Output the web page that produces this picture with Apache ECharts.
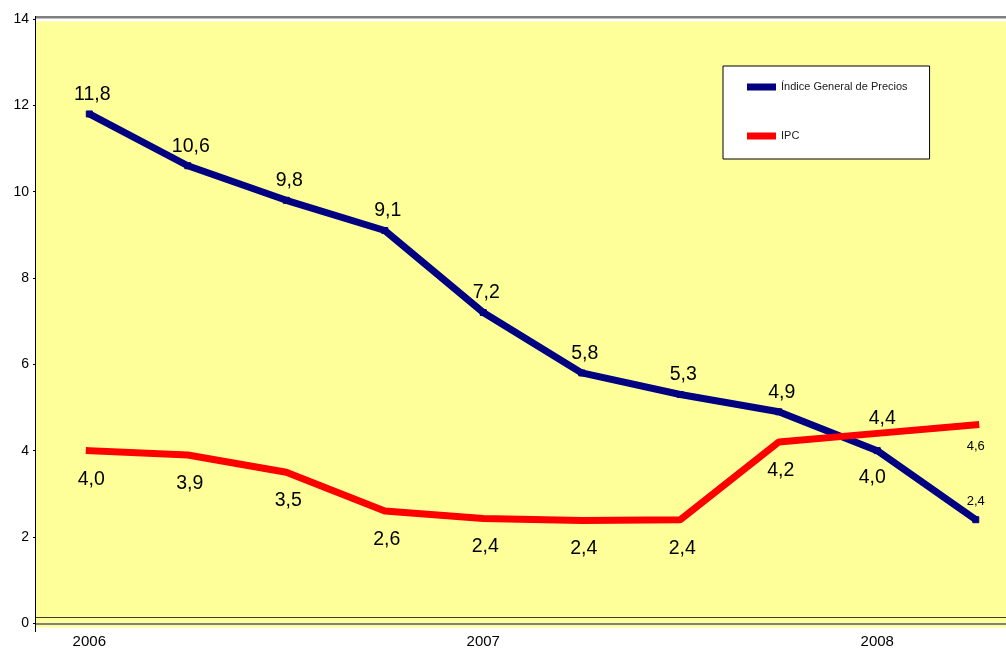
<!DOCTYPE html>
<html>
<head>
<meta charset="utf-8">
<script src="https://cdn.jsdelivr.net/npm/echarts@6/dist/echarts.min.js"></script>
<style>
html,body{margin:0;padding:0;background:#fff;}
#chart{width:1006px;height:652px;}
</style>
</head>
<body>
<div id="chart"></div>
<script>
// Period labels (one per data point; year shown at first point of each year)
const categories = ['2006', '', '', '', '2007', '', '', '', '2008', ''];
const yTicks = [0, 2, 4, 6, 8, 10, 12, 14];
const seriesNames = ['Índice General de Precios', 'IPC'];
const igpValues = [11.8, 10.6, 9.8, 9.1, 7.2, 5.8, 5.3, 4.9, 4.0, 2.4];
const ipcValues = [4.0, 3.9, 3.5, 2.6, 2.43, 2.38, 2.4, 4.2, 4.4, 4.6];

const FONT = 'Arial, "Liberation Sans", sans-serif';
const fmt = v => v.toFixed(1).replace('.', ',');

function buildData(values, overrides) {
  return values.map((v, i) => {
    const item = { value: [i, v] };
    if (overrides[i]) item.label = overrides[i];
    return item;
  });
}

const igpData = buildData(igpValues, {
  8: { position: 'bottom', distance: 13, offset: [-5, 0] },
  9: { fontSize: 13, distance: 8, offset: [0, 0] }
});
const ipcData = buildData(ipcValues, {
  8: { position: 'top', distance: 4, offset: [5, 0] },
  9: { fontSize: 13, distance: 15, offset: [0, 0] }
});

const labelIdx = categories.map((c, i) => c ? i : -1).filter(i => i >= 0);

const chart = echarts.init(document.getElementById('chart'));
chart.setOption({
  animation: false,
  backgroundColor: '#ffffff',
  textStyle: { fontFamily: FONT },
  grid: { left: 36, right: 0, top: 19, bottom: 28.7, containLabel: false },
  graphic: [
    { type: 'rect', z: -10, silent: true,
      shape: { x: 36, y: 21.5, width: 970, height: 606 },
      style: { fill: '#FFFF99' } },
    { type: 'rect', z: 5, silent: true,
      shape: { x: 36, y: 16, width: 970, height: 2.5 },
      style: { fill: '#808080' } },
    { type: 'line', z: 5, silent: true,
      shape: { x1: 36, y1: 617.5, x2: 1006, y2: 617.5 },
      style: { stroke: '#3d3d2a', lineWidth: 1 } },
    { type: 'line', z: 5, silent: true,
      shape: { x1: 35.5, y1: 16, x2: 35.5, y2: 632 },
      style: { stroke: '#000000', lineWidth: 1 } }
  ],
  legend: {
    orient: 'vertical',
    left: 723,
    top: 66,
    padding: [15, 22, 17, 24],
    itemGap: 37,
    itemWidth: 29,
    itemHeight: 7,
    backgroundColor: '#ffffff',
    borderColor: '#000000',
    borderWidth: 1,
    textStyle: { fontSize: 11, color: '#1a1a1a', fontFamily: FONT, lineHeight: 12 },
    data: [
      { name: seriesNames[0], icon: 'rect', itemStyle: { color: '#000080' } },
      { name: seriesNames[1], icon: 'rect', itemStyle: { color: '#FF0000' } }
    ]
  },
  xAxis: {
    type: 'value',
    min: -0.541,
    max: 9.307,
    axisLine: { show: true, onZero: false, lineStyle: { color: '#808080', width: 2 } },
    axisTick: { show: false },
    splitLine: { show: false },
    axisLabel: {
      customValues: labelIdx,
      formatter: v => categories[Math.round(v)],
      fontSize: 15,
      color: '#000000',
      margin: 11,
      fontFamily: FONT
    }
  },
  yAxis: {
    type: 'value',
    min: yTicks[0],
    max: yTicks[yTicks.length - 1],
    interval: 2,
    axisLine: { show: false, onZero: false },
    axisTick: { show: true, inside: false, length: 3, lineStyle: { color: '#000000' } },
    splitLine: { show: false },
    axisLabel: { fontSize: 14, color: '#000000', margin: 7, fontFamily: FONT }
  },
  series: [
    {
      name: seriesNames[0],
      type: 'line',
      z: 3,
      data: igpData,
      symbol: 'rect',
      symbolSize: 6,
      itemStyle: { color: '#000080', borderColor: '#000080' },
      lineStyle: { color: '#000080', width: 7 },
      label: {
        show: true,
        position: 'top',
        distance: 6,
        offset: [3, 0],
        fontSize: 19.5,
        color: '#000000',
        fontFamily: FONT,
        formatter: p => fmt(p.value[1])
      }
    },
    {
      name: seriesNames[1],
      type: 'line',
      z: 4,
      data: ipcData,
      symbol: 'rect',
      symbolSize: 1,
      itemStyle: { color: '#FF0000', borderWidth: 0 },
      lineStyle: { color: '#FF0000', width: 7, cap: 'square' },
      label: {
        show: true,
        position: 'bottom',
        distance: 18,
        offset: [2, 0],
        fontSize: 19.5,
        color: '#000000',
        fontFamily: FONT,
        formatter: p => fmt(p.value[1])
      }
    }
  ]
});
</script>
</body>
</html>
